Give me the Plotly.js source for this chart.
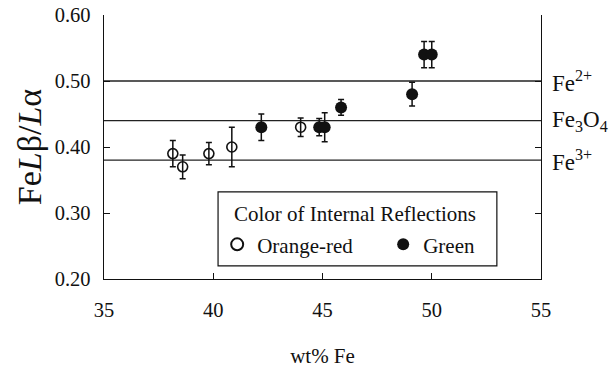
<!DOCTYPE html>
<html>
<head>
<meta charset="utf-8">
<script src="https://cdn.plot.ly/plotly-3.0.1.min.js"></script>
<style>html,body{margin:0;padding:0;background:#fff;}#chart{width:611px;height:368px;}</style>
</head>
<body>
<div id="chart"></div>
<script>
// Orange-red internal reflections (open circles)
const orangeFe = [38.15, 38.6, 39.8, 40.85, 44.0];
const orangeRatio = [0.39, 0.37, 0.39, 0.40, 0.43];
const orangeErr = [0.02, 0.018, 0.017, 0.03, 0.014];
// Green internal reflections (filled circles)
const greenFe = [42.2, 44.85, 45.1, 45.85, 49.1, 49.65, 50.0];
const greenRatio = [0.43, 0.43, 0.43, 0.46, 0.48, 0.54, 0.54];
const greenErr = [0.02, 0.013, 0.022, 0.012, 0.018, 0.02, 0.02];
// Reference levels
const refLabels = ['Fe<sup>2+</sup>', 'Fe<sub>3</sub>O<sub>4</sub>', 'Fe<sup>3+</sup>'];
const refValues = [0.50, 0.44, 0.38];
const xRange = [35, 55];
const yRange = [0.20, 0.60];
const legendTitle = 'Color of Internal Reflections';

const serif = '"Liberation Serif", "Times New Roman", serif';
const traces = [];
refValues.forEach(v => {
  traces.push({x: xRange, y: [v, v], mode: 'lines', line: {color: '#222', width: 1.3},
    showlegend: false, hoverinfo: 'skip'});
});
traces.push({
  x: orangeFe, y: orangeRatio, name: 'Orange-red', mode: 'markers', type: 'scatter',
  marker: {symbol: 'circle-open', size: 10, color: '#111', line: {width: 1.6, color: '#111'}},
  error_y: {type: 'data', array: orangeErr, visible: true, color: '#111', thickness: 1.5, width: 3}
});
traces.push({
  x: greenFe, y: greenRatio, name: 'Green', mode: 'markers', type: 'scatter',
  marker: {symbol: 'circle', size: 12, color: '#111'},
  error_y: {type: 'data', array: greenErr, visible: true, color: '#111', thickness: 1.5, width: 3}
});

const annotations = refValues.map((v, i) => ({
  xref: 'paper', yref: 'y', x: 1, y: v, xanchor: 'left', yanchor: 'middle', xshift: 9,
  text: refLabels[i], showarrow: false, font: {family: serif, size: 23, color: '#111'}
}));
annotations.push({
  xref: 'paper', yref: 'paper', x: 0.293, y: 0.245, xanchor: 'left', yanchor: 'middle',
  text: legendTitle, showarrow: false, font: {family: serif, size: 21, color: '#111'}
});

const layout = {
  width: 611, height: 368,
  margin: {l: 104, r: 70, t: 15, b: 89},
  paper_bgcolor: '#fff', plot_bgcolor: '#fff',
  font: {family: serif, color: '#111'},
  xaxis: {
    range: xRange, dtick: 5, tick0: 35, showgrid: false, zeroline: false,
    showline: true, linecolor: '#111', linewidth: 1.3,
    ticks: 'inside', ticklen: 6, tickcolor: '#111', ticklabelstandoff: 12,
    tickfont: {family: serif, size: 20.5, color: '#111'},
    title: {text: 'wt% Fe', font: {family: serif, size: 21, color: '#111'}, standoff: 32}
  },
  yaxis: {
    range: yRange, dtick: 0.1, tick0: 0.2, tickformat: '.2f', showgrid: false, zeroline: false,
    showline: true, linecolor: '#111', linewidth: 1.3, mirror: 'ticks',
    ticks: 'inside', ticklen: 6, tickcolor: '#111', ticklabelstandoff: 8,
    tickfont: {family: serif, size: 20.5, color: '#111'},
    title: {text: 'Fe<i>L</i>β/<i>L</i>α', font: {family: serif, size: 34, color: '#111'}, standoff: 2}
  },
  shapes: [{
    type: 'rect', xref: 'paper', yref: 'paper', x0: 0.261, x1: 0.899, y0: 0.05, y1: 0.33,
    line: {color: '#111', width: 1.2}, fillcolor: '#fff', layer: 'above'
  }],
  legend: {
    x: 0.259, y: 0.13, xanchor: 'left', yanchor: 'middle', orientation: 'h',
    bgcolor: 'rgba(0,0,0,0)', borderwidth: 0,
    font: {family: serif, size: 21, color: '#111'},
    entrywidth: 121, itemsizing: 'constant', traceorder: 'normal'
  },
  annotations: annotations,
  showlegend: true
};

Plotly.newPlot('chart', traces, layout, {displayModeBar: false, staticPlot: true});
</script>
</body>
</html>
